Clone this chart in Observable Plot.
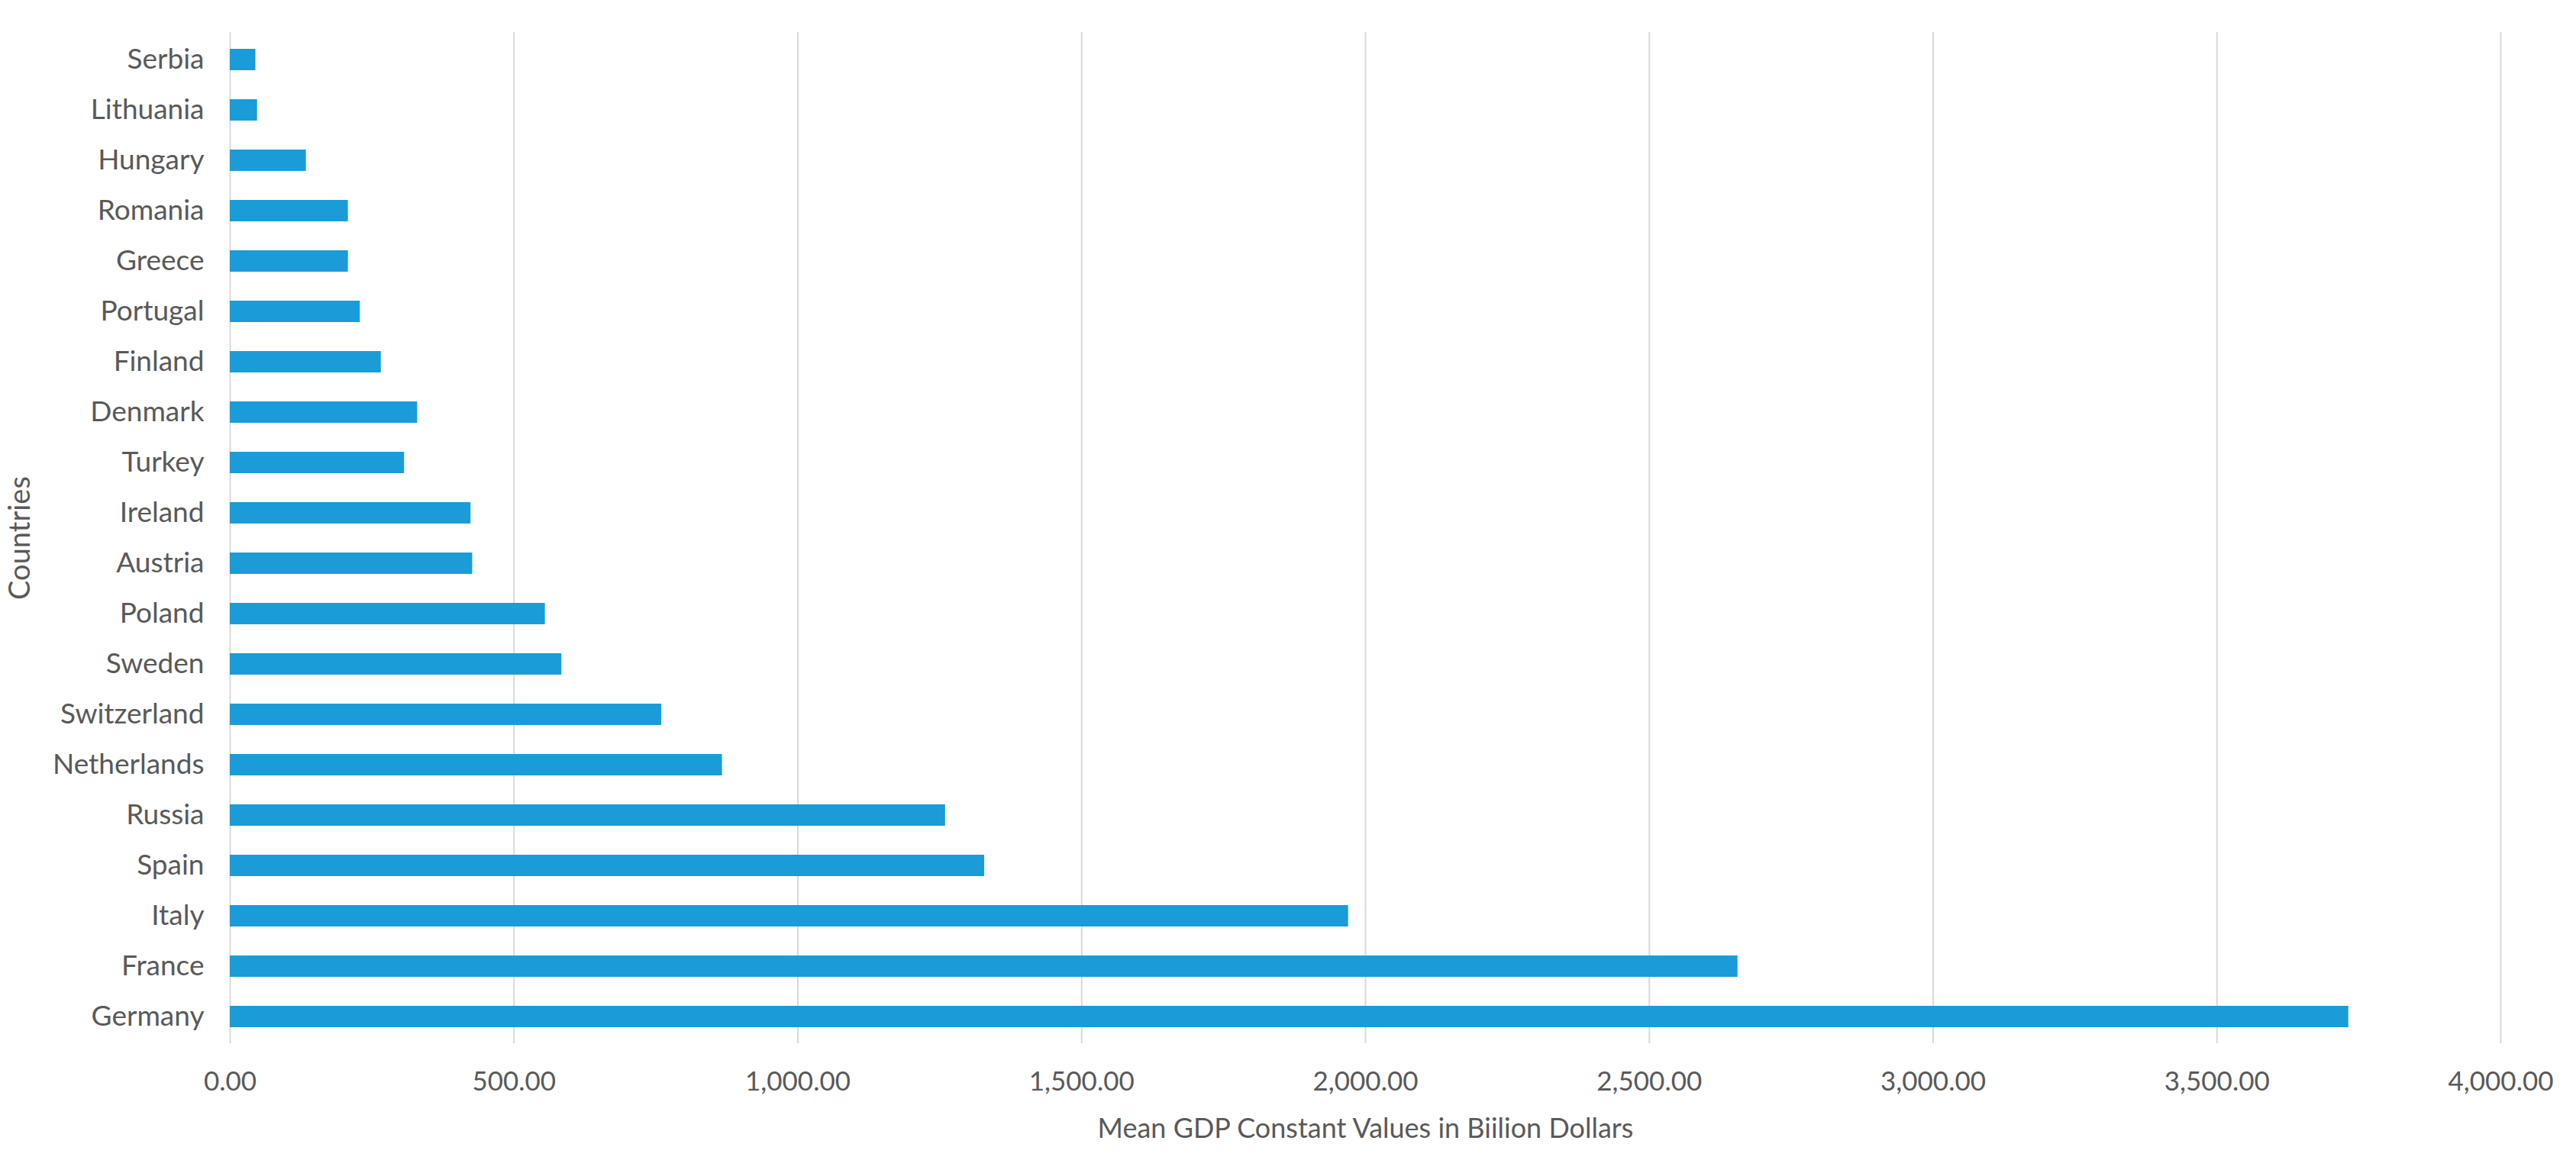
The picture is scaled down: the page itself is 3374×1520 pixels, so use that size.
<!DOCTYPE html>
<html>
<head>
<meta charset="utf-8">
<script src="https://cdn.jsdelivr.net/npm/d3@7"></script>
<script src="https://cdn.jsdelivr.net/npm/@observablehq/plot@0.6"></script>
<style>
  html, body { margin: 0; padding: 0; background: #ffffff; }
  #chart { width: 3374px; height: 1520px; }
</style>
</head>
<body>
<div id="chart"></div>
<script>
const countries = ["Serbia", "Lithuania", "Hungary", "Romania", "Greece", "Portugal", "Finland", "Denmark", "Turkey", "Ireland", "Austria", "Poland", "Sweden", "Switzerland", "Netherlands", "Russia", "Spain", "Italy", "France", "Germany"];
const gdpValues = [45, 48, 134, 208, 208, 229, 266, 330, 307, 424, 427, 555, 584, 760, 867, 1260, 1329, 1970, 2656, 3732];
const xTicks = [0, 500, 1000, 1500, 2000, 2500, 3000, 3500, 4000];
const xTitle = "Mean GDP Constant Values in Biilion Dollars";
const yTitle = "Countries";

const data = countries.map((c, i) => ({country: c, value: gdpValues[i]}));
const textColor = "#595959";

const chart = Plot.plot({
  width: 3374,
  height: 1520,
  marginLeft: 301,
  marginRight: 99,
  marginTop: 42,
  marginBottom: 153,
  style: {fontFamily: "Lato, 'Open Sans', sans-serif", fontSize: "36px", color: textColor, background: "#ffffff"},
  x: {domain: [0, 4000], ticks: xTicks},
  y: {domain: countries, paddingInner: 0.58, paddingOuter: 0.29},
  marks: [
    Plot.gridX(xTicks, {stroke: "#d9d9d9", strokeOpacity: 1, strokeWidth: 2}),
    Plot.barX(data, {x: "value", y: "country", fill: "#1b9bd7"}),
    Plot.axisX({ticks: xTicks, tickSize: 0, tickPadding: 37, tickFormat: d3.format(",.2f"), label: null, fill: textColor, fontSize: 35}),
    Plot.axisY({tickSize: 0, tickPadding: 34, label: null, fill: textColor, fontSize: 37}),
    Plot.text([xTitle], {frameAnchor: "bottom", dy: 112, textAnchor: "middle", lineAnchor: "middle", fill: textColor, fontSize: 36}),
    Plot.text([yTitle], {frameAnchor: "left", dx: -275, rotate: -90, textAnchor: "middle", lineAnchor: "middle", fill: textColor, fontSize: 38})
  ]
});
document.getElementById("chart").appendChild(chart);
</script>
</body>
</html>
